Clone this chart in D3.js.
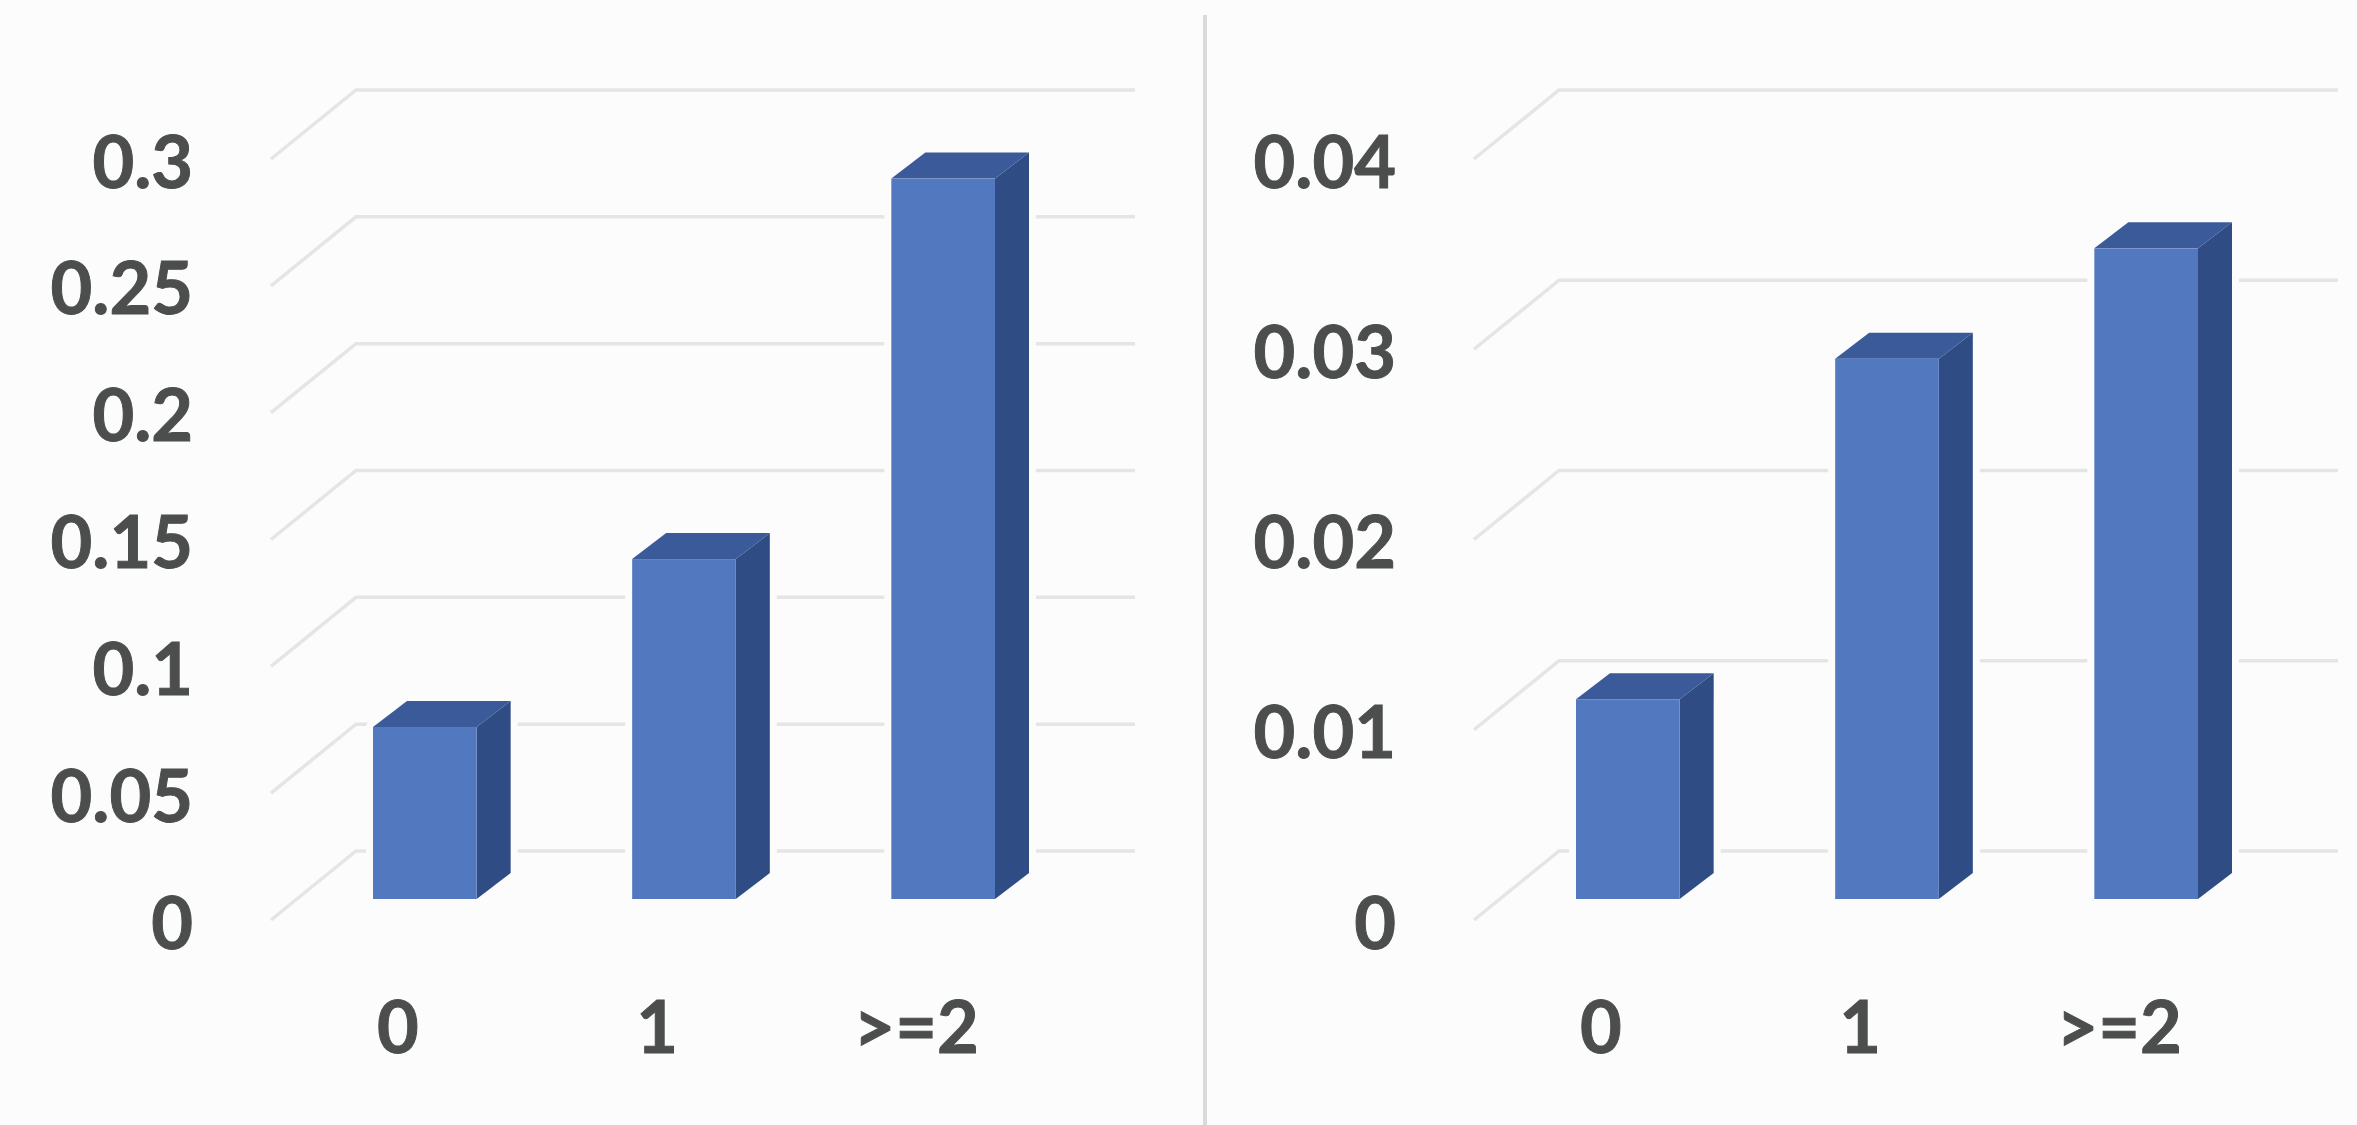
<!DOCTYPE html>
<html>
<head>
<meta charset="utf-8">
<script src="https://cdn.jsdelivr.net/npm/d3@7"></script>
<style>
  html, body { margin: 0; padding: 0; background: #fbfcfb; }
  svg { display: block; }
  text { font-family: Lato, sans-serif; font-weight: 700; fill: #4b4e4d; stroke: #4b4e4d; stroke-width: 1; }
</style>
</head>
<body>
<svg id="chart" width="2357" height="1125"></svg>
<script>
// Category labels shared by both panels
const categories = ["0", "1", ">=2"];

// Left panel
const leftValues = [0.0678, 0.134, 0.284];
const leftTicks = [0, 0.05, 0.1, 0.15, 0.2, 0.25, 0.3];
const leftMax = 0.3;

// Right panel
const rightValues = [0.0105, 0.0284, 0.0342];
const rightTicks = [0, 0.01, 0.02, 0.03, 0.04];
const rightMax = 0.04;

// Shared geometry of the pseudo-3D plot box
const W = 2357, H = 1125;
const wallTop = 90, wallBottom = 851;
const wallLeft = 356, wallRight = 1135;
const floorDx = 85, floorDy = 69;   // wall plane to front edge of the floor
const barBase = 48;                 // bar front face sits this far below the wall plane
const depthX = 34, depthY = 26;     // visible depth of each bar
const barsFrom = 373, barsTo = 995;
const labelSize = 72;

const svg = d3.select("#chart");
svg.append("rect").attr("width", W).attr("height", H).attr("fill", "#fbfcfb");

// Divider between the panels
svg.append("line")
  .attr("x1", 1205).attr("x2", 1205).attr("y1", 15).attr("y2", H)
  .attr("stroke", "#d9dad9").attr("stroke-width", 4);

function panel(originX, values, ticks, maxValue) {
  const g = svg.append("g").attr("transform", `translate(${originX},0)`);
  const y = d3.scaleLinear().domain([0, maxValue]).range([wallBottom, wallTop]);
  const x = d3.scaleBand().domain(categories).range([barsFrom, barsTo]).paddingInner(0.6).paddingOuter(0);
  const line = d3.line();

  // Gridlines: back wall plus the slanted run along the side wall
  g.append("g").selectAll("path").data(ticks).join("path")
    .attr("d", v => line([
      [wallLeft - floorDx, y(v) + floorDy],
      [wallLeft, y(v)],
      [wallRight, y(v)]
    ]))
    .attr("fill", "none")
    .attr("stroke", "#e4e6e4")
    .attr("stroke-width", 3.5);

  // Value axis labels, aligned with the front edge of the floor
  const yAxis = d3.axisLeft(y).tickValues(ticks).tickSize(0).tickPadding(0).tickFormat(d => String(d));
  const ya = g.append("g").attr("transform", `translate(193,${floorDy + 5})`).call(yAxis);
  ya.select(".domain").remove();
  ya.selectAll("text").attr("font-size", labelSize);

  // Category axis labels
  const xAxis = d3.axisBottom(x).tickSize(0).tickPadding(0);
  const xa = g.append("g").attr("transform", "translate(-27,1002)").call(xAxis);
  xa.select(".domain").remove();
  xa.selectAll("text").attr("font-size", labelSize).attr("dy", "0.71em");

  // Bars: side and top faces behind the front face
  const bars = g.append("g").selectAll("g").data(values).join("g");
  const floorY = wallBottom + barBase;
  const topY = v => y(v) + barBase;

  // Pale halo keeps the gridlines from touching each bar
  bars.append("path")
    .attr("d", (v, i) => {
      const l = x(categories[i]), r = l + x.bandwidth();
      return line([[l, floorY], [l, topY(v)], [l + depthX, topY(v) - depthY],
                   [r + depthX, topY(v) - depthY], [r + depthX, floorY - depthY], [r, floorY]]) + "Z";
    })
    .attr("fill", "#fbfcfb").attr("stroke", "#fbfcfb").attr("stroke-width", 14).attr("stroke-linejoin", "round");

  bars.append("path")
    .attr("d", (v, i) => {
      const r = x(categories[i]) + x.bandwidth();
      return line([[r, floorY], [r, topY(v)], [r + depthX, topY(v) - depthY], [r + depthX, floorY - depthY]]) + "Z";
    })
    .attr("fill", "#2f4c85");

  bars.append("path")
    .attr("d", (v, i) => {
      const l = x(categories[i]), r = l + x.bandwidth();
      return line([[l, topY(v)], [l + depthX, topY(v) - depthY], [r + depthX, topY(v) - depthY], [r, topY(v)]]) + "Z";
    })
    .attr("fill", "#3b5a9a");

  bars.append("rect")
    .attr("x", (v, i) => x(categories[i]))
    .attr("y", v => topY(v))
    .attr("width", x.bandwidth())
    .attr("height", v => floorY - topY(v))
    .attr("fill", "#5279c0");
}

panel(0, leftValues, leftTicks, leftMax);
panel(1203, rightValues, rightTicks, rightMax);
</script>
</body>
</html>
